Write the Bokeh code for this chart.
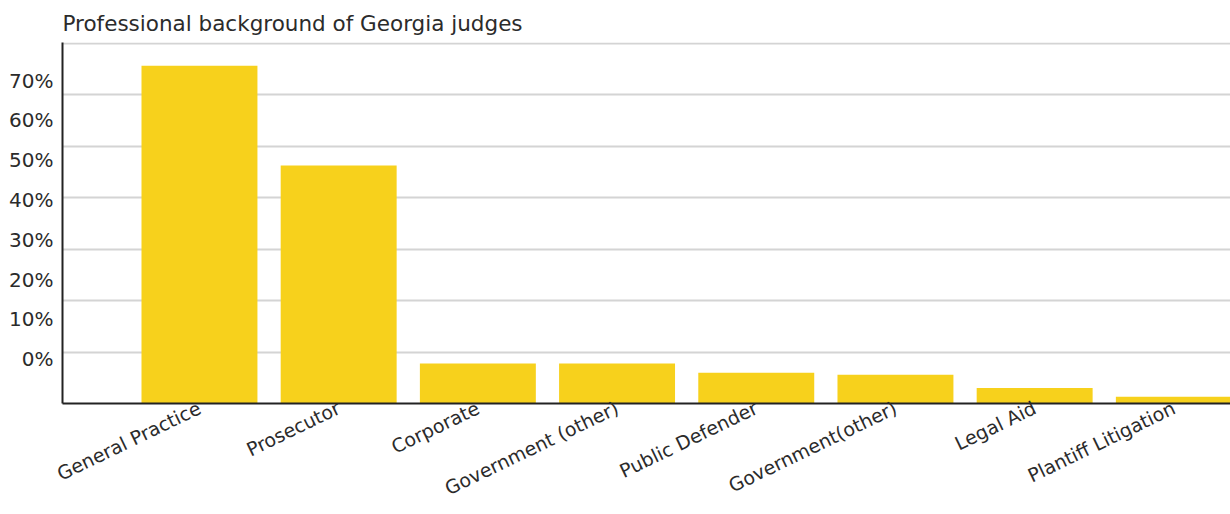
import numpy as np
from bokeh.plotting import figure
from bokeh.models import Range1d, FixedTicker
from bokeh.embed import file_html
from bokeh.resources import INLINE

title_text = "Professional background of Georgia judges"
categories = ["General Practice", "Prosecutor", "Corporate", "Government (other)",
              "Public Defender", "Government(other)", "Legal Aid", "Plantiff Litigation"]
values = [65.7, 46.3, 7.8, 7.8, 6.0, 5.6, 3.0, 1.3]
y_tick_labels = ["0%", "10%", "20%", "30%", "40%", "50%", "60%", "70%"]
grid_values = [10, 20, 30, 40, 50, 60, 70]

FONT = "DejaVu Sans"
TEXT = "#2b2b2b"

xs = list(range(len(categories)))
label_pos = [round(v, 2) for v in np.linspace(8.6, 62.8, len(y_tick_labels))]

p = figure(width=1230, height=514, output_backend="svg", toolbar_location=None,
           x_range=Range1d(-0.984, 7.407), y_range=Range1d(0, 70.2),
           min_border_left=62, min_border_right=0, min_border_top=42,
           min_border_bottom=111)

p.title.text = title_text
p.title.text_font = FONT
p.title.text_font_size = "21.5px"
p.title.text_font_style = "normal"
p.title.text_color = TEXT
p.title.offset = 0
p.title.standoff = 14

p.vbar(x=xs, top=values, width=0.833, color="#F7D11C", line_color=None)

p.outline_line_color = None
p.xgrid.visible = False
p.ygrid.ticker = FixedTicker(ticks=grid_values)
p.ygrid.grid_line_color = "#d4d4d4"
p.ygrid.grid_line_width = 2

p.yaxis.ticker = FixedTicker(ticks=label_pos)
p.yaxis.major_label_overrides = {pos: lab for pos, lab in zip(label_pos, y_tick_labels)}
p.xaxis.ticker = FixedTicker(ticks=xs)
p.xaxis.major_label_overrides = {x: c for x, c in zip(xs, categories)}
p.xaxis.major_label_orientation = 0.45

for ax in (p.xaxis, p.yaxis):
    ax.axis_line_color = "#222222"
    ax.axis_line_width = 2
    ax.major_tick_line_color = None
    ax.minor_tick_line_color = None
    ax.major_tick_out = 0
    ax.major_tick_in = 0
    ax.major_label_text_font = FONT
    ax.major_label_text_color = TEXT
p.yaxis.major_label_text_font_size = "20px"
p.xaxis.major_label_text_font_size = "19px"
p.yaxis.major_label_standoff = 9
p.xaxis.major_label_standoff = 3

open("out.html", "w").write(file_html(p, INLINE))
